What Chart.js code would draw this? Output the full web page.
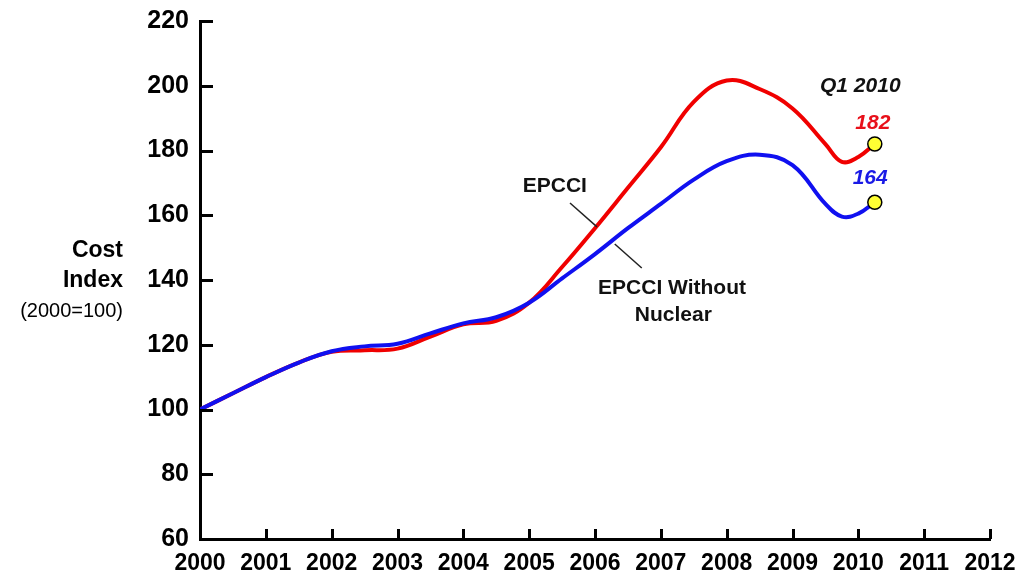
<!DOCTYPE html>
<html>
<head>
<meta charset="utf-8">
<script src="https://cdn.jsdelivr.net/npm/chart.js@4"></script>
<style>
  body { margin: 0; background: #fff; }
</style>
</head>
<body>
<canvas id="chart" width="1022" height="577"></canvas>
<script>
// years (Q1 2010 is the last point)
var years = [2000, 2000.5, 2001, 2001.5, 2002, 2002.5, 2003, 2003.5, 2004, 2004.5, 2005,
  2005.5, 2006, 2006.5, 2007, 2007.5, 2008, 2008.5, 2009, 2009.5, 2009.75, 2010, 2010.25];
var epcci = [100, 105, 110, 114.5, 117.8, 118.3, 118.8, 122.5, 126.3, 127.4, 133,
  144, 156, 168.5, 181, 195, 201.6, 199, 193, 182, 176.5, 178, 182];
var epcciNoNuclear = [100, 105, 110, 114.5, 118, 119.5, 120.3, 123.5, 126.6, 128.5, 133,
  140.5, 148, 156, 163.5, 171, 176.7, 178.7, 175.5, 163.5, 159.6, 160.5, 164];
var yearTicks = [2000, 2001, 2002, 2003, 2004, 2005, 2006, 2007, 2008, 2009, 2010, 2011, 2012];
var valueTicks = [60, 80, 100, 120, 140, 160, 180, 200, 220];

function toPoints(vals) {
  return years.map(function (yr, i) { return { x: yr, y: vals[i] }; });
}

function lastOnly(r) {
  return function (ctx) { return ctx.dataIndex === years.length - 1 ? r : 0; };
}

var decor = {
  id: "decor",
  afterDraw: function (chart) {
    var ctx = chart.ctx;
    var xs = chart.scales.x, ys = chart.scales.y;
    var area = chart.chartArea;
    ctx.save();
    ctx.strokeStyle = "#000";
    ctx.lineWidth = 3;
    // tick marks inside the axes
    valueTicks.forEach(function (v) {
      var py = Math.round(ys.getPixelForValue(v)) + 0.5;
      ctx.beginPath();
      ctx.moveTo(area.left, py);
      ctx.lineTo(area.left + 13, py);
      ctx.stroke();
    });
    yearTicks.forEach(function (v) {
      var px = Math.round(xs.getPixelForValue(v)) + 0.5;
      ctx.beginPath();
      ctx.moveTo(px, area.bottom);
      ctx.lineTo(px, area.bottom - 10);
      ctx.stroke();
    });

    // leader lines
    ctx.lineWidth = 1.5;
    ctx.strokeStyle = "#222";
    [[2005.62, 163.8, 2006.03, 156.4], [2006.30, 151.1, 2006.71, 143.7]].forEach(function (l) {
      ctx.beginPath();
      ctx.moveTo(xs.getPixelForValue(l[0]), ys.getPixelForValue(l[1]));
      ctx.lineTo(xs.getPixelForValue(l[2]), ys.getPixelForValue(l[3]));
      ctx.stroke();
    });

    ctx.textAlign = "center";
    ctx.textBaseline = "middle";
    function label(txt, x, y, font, color) {
      ctx.font = font;
      ctx.fillStyle = color;
      ctx.fillText(txt, xs.getPixelForValue(x), ys.getPixelForValue(y));
    }
    var bold = "bold 21px 'Liberation Sans', Arial, sans-serif";
    var boldIt = "italic bold 21px 'Liberation Sans', Arial, sans-serif";
    label("EPCCI", 2005.39, 169.0, bold, "#111");
    label("EPCCI Without", 2007.17, 137.5, bold, "#111");
    label("Nuclear", 2007.19, 129.2, bold, "#111");
    label("Q1 2010", 2010.03, 199.9, boldIt, "#111");
    label("182", 2010.22, 188.5, boldIt, "#e8101a");
    label("164", 2010.18, 171.5, boldIt, "#1a1ae6");

    // y axis title
    ctx.textAlign = "right";
    ctx.fillStyle = "#000";
    ctx.font = "bold 23px 'Liberation Sans', Arial, sans-serif";
    ctx.fillText("Cost", 123, 251);
    ctx.fillText("Index", 123, 281);
    ctx.font = "20px 'Liberation Sans', Arial, sans-serif";
    ctx.fillText("(2000=100)", 123, 311);
    ctx.restore();
  }
};

new Chart(document.getElementById("chart"), {
  type: "line",
  data: {
    datasets: [
      {
        label: "EPCCI Without Nuclear",
        data: toPoints(epcciNoNuclear),
        borderColor: "#1010f0",
        borderWidth: 4,
        tension: 0.4,
        pointRadius: lastOnly(7),
        pointHoverRadius: lastOnly(7),
        pointBackgroundColor: "#ffff33",
        pointBorderColor: "#000",
        pointBorderWidth: 1.5
      },
      {
        label: "EPCCI",
        data: toPoints(epcci),
        borderColor: "#f00000",
        borderWidth: 4,
        tension: 0.4,
        pointRadius: lastOnly(7),
        pointHoverRadius: lastOnly(7),
        pointBackgroundColor: "#ffff33",
        pointBorderColor: "#000",
        pointBorderWidth: 1.5
      }
    ]
  },
  options: {
    responsive: false,
    animation: false,
    layout: { padding: { top: 21, right: 32, left: 0, bottom: 0 } },
    plugins: { legend: { display: false }, tooltip: { enabled: false } },
    scales: {
      x: {
        type: "linear",
        min: 2000,
        max: 2012,
        afterBuildTicks: function (s) { s.ticks = yearTicks.map(function (v) { return { value: v }; }); },
        afterFit: function (s) { s.height = 38; s.paddingLeft = 0; s.paddingRight = 0; },
        grid: { display: true, drawOnChartArea: false, drawTicks: false },
        border: { display: true, color: "#000", width: 3 },
        ticks: {
          color: "#000",
          padding: 11,
          maxRotation: 0,
          autoSkip: false,
          font: { family: "'Liberation Sans', Arial, sans-serif", size: 23, weight: "bold" },
          callback: function (v) { return String(v); }
        }
      },
      y: {
        min: 60,
        max: 220,
        afterBuildTicks: function (s) { s.ticks = valueTicks.map(function (v) { return { value: v }; }); },
        afterFit: function (s) { s.width = 200; s.paddingTop = 0; s.paddingBottom = 0; },
        grid: { display: true, drawOnChartArea: false, drawTicks: false },
        border: { display: true, color: "#000", width: 3 },
        ticks: {
          color: "#000",
          padding: 11,
          font: { family: "'Liberation Sans', Arial, sans-serif", size: 25, weight: "bold" },
          callback: function (v) { return String(v); }
        }
      }
    }
  },
  plugins: [decor]
});
</script>
</body>
</html>
